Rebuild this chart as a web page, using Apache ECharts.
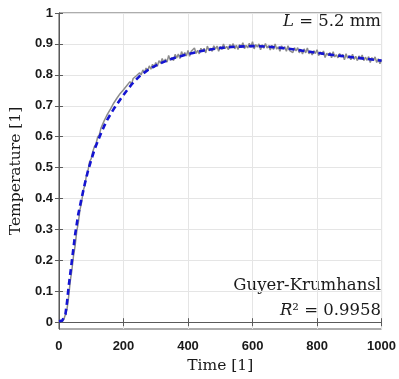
<!DOCTYPE html>
<html><head><meta charset="utf-8">
<script src="https://cdn.jsdelivr.net/npm/echarts@6/dist/echarts.min.js"></script>
<style>html,body{margin:0;padding:0;background:#fff}#c{width:399px;height:379px}</style>
</head><body><div id="c"></div>
<script>
// Fit curve (Guyer-Krumhansl), blue dashed
const fitT = [0,10,15,20,25,30,40,50,60,70,80,90,100,110,120,130,140,150,160,170,180,200,225,250,275,300,325,350,400,450,500,550,600,650,700,750,800,850,900,950,1000];
const fitY = [0.003,0.005,0.008,0.025,0.065,0.115,0.198,0.283,0.35,0.40,0.447,0.49,0.525,0.558,0.585,0.61,0.634,0.655,0.673,0.69,0.705,0.735,0.769,0.796,0.815,0.83,0.842,0.852,0.867,0.879,0.887,0.891,0.893,0.891,0.886,0.879,0.871,0.864,0.858,0.852,0.846];
// Measured data (gray, noisy), sampled every 5 time units from t = 0
const measStep = 5;
const measY = [0.004,0.007,0.002,0.009,0.014,0.042,0.083,0.133,0.168,0.214,
0.247,0.293,0.322,0.363,0.387,0.424,0.442,0.474,0.491,0.519,
0.529,0.552,0.568,0.577,0.599,0.606,0.627,0.631,0.651,0.652,
0.672,0.674,0.690,0.692,0.709,0.708,0.725,0.722,0.740,0.737,
0.752,0.750,0.765,0.761,0.778,0.770,0.788,0.784,0.797,0.791,
0.807,0.800,0.816,0.806,0.822,0.813,0.829,0.818,0.834,0.824,
0.840,0.828,0.846,0.837,0.853,0.839,0.851,0.841,0.863,0.847,
0.856,0.846,0.866,0.855,0.867,0.853,0.875,0.862,0.872,0.861,
0.879,0.860,0.876,0.871,0.887,0.869,0.879,0.868,0.886,0.875,
0.886,0.871,0.893,0.878,0.886,0.876,0.894,0.883,0.893,0.876,
0.892,0.882,0.900,0.885,0.892,0.881,0.898,0.889,0.901,0.884,
0.896,0.882,0.898,0.889,0.904,0.885,0.895,0.887,0.902,0.889,
0.907,0.884,0.898,0.890,0.900,0.881,0.897,0.886,0.901,0.887,
0.894,0.880,0.896,0.882,0.900,0.883,0.890,0.876,0.894,0.883,
0.891,0.876,0.894,0.878,0.884,0.872,0.888,0.877,0.888,0.871,
0.882,0.867,0.884,0.871,0.887,0.868,0.876,0.864,0.878,0.869,
0.881,0.862,0.874,0.865,0.877,0.856,0.870,0.863,0.872,0.855,
0.875,0.858,0.865,0.855,0.869,0.858,0.866,0.849,0.868,0.854,
0.861,0.849,0.867,0.850,0.860,0.846,0.861,0.852,0.864,0.846,
0.857,0.847,0.859,0.840,0.856,0.846,0.858,0.840,0.852,0.836,
0.849];
const yTicks = [0,0.1,0.2,0.3,0.4,0.5,0.6,0.7,0.8,0.9,1];
const xTicks = [0,200,400,600,800,1000];

const meas = measY.map((v,i)=>[i*measStep, v]);
const fit = fitT.map((t,i)=>[t, fitY[i]]);

const chart = echarts.init(document.getElementById('c'), null, {renderer:'canvas'});
const tickLab = {fontFamily:'Liberation Sans', fontWeight:'bold', fontSize:13, color:'#1a1a1a'};
const serif = 'DejaVu Serif';
const axCol = '#5a5a5a';
chart.setOption({
  animation:false,
  grid:{left:57, right:16, top:13, bottom:44, show:true, borderColor:axCol, borderWidth:1},
  xAxis:[{type:'value', min:0, max:1000, interval:200,
    axisLine:{lineStyle:{color:axCol}}, axisTick:{inside:true, length:4, lineStyle:{color:axCol}},
    axisLabel:Object.assign({margin:11, customValues:xTicks, formatter:v=>String(v)}, tickLab),
    splitLine:{show:true, lineStyle:{color:'#e5e5e5'}},
    name:'Time [1]', nameLocation:'middle', nameGap:29,
    nameTextStyle:{fontFamily:serif, fontSize:15.5, color:'#1a1a1a'}},
   {type:'value', position:'top', min:0, max:1000, interval:200, axisLine:{show:true, lineStyle:{color:axCol}},
    axisTick:{inside:true, length:4, lineStyle:{color:axCol}}, axisLabel:{show:false}, splitLine:{show:false}}],
  yAxis:[{type:'value', min:-0.022, max:1,
    axisLine:{show:true, lineStyle:{color:axCol}},
    axisTick:{show:true, inside:true, length:4, customValues:yTicks, lineStyle:{color:axCol}},
    axisLabel:Object.assign({margin:6, customValues:yTicks, formatter:v=>String(+v.toFixed(1))}, tickLab),
    splitLine:{show:false},
    name:'Temperature [1]', nameLocation:'middle', nameGap:31,
    nameTextStyle:{fontFamily:serif, fontSize:15.5, color:'#1a1a1a'}},
   {type:'value', position:'right', min:-0.022, max:1, axisLine:{show:true, lineStyle:{color:axCol}},
    axisTick:{show:true, inside:true, length:4, customValues:yTicks, lineStyle:{color:axCol}},
    axisLabel:{show:false}, splitLine:{show:false}}],
  series:[
    {type:'line', data:meas, showSymbol:false, lineStyle:{color:'#8c8c8c', width:1.5}, z:2,
     markLine:{silent:true, symbol:'none', label:{show:false}, lineStyle:{color:'#e5e5e5', width:1, type:'solid'},
       data:yTicks.map(v=>({yAxis:v})), z:0}},
    {type:'line', data:fit, showSymbol:false, lineStyle:{color:'#1414d2', width:2.6, type:[6,4]}, z:3}
  ],
  graphic:[
    {type:'text', right:18, top:13, style:{text:'{i|L} = 5.2 mm', fontFamily:serif, fontSize:16.5, fill:'#1a1a1a',
      rich:{i:{fontStyle:'italic', fontFamily:serif, fontSize:16.5}}}},
    {type:'text', right:18, top:277, style:{text:'Guyer-Krumhansl', fontFamily:serif, fontSize:16.5, fill:'#1a1a1a'}},
    {type:'text', right:18, top:302, style:{text:'{i|R}² = 0.9958', fontFamily:serif, fontSize:16.5, fill:'#1a1a1a',
      rich:{i:{fontStyle:'italic', fontFamily:serif, fontSize:16.5}}}}
  ]
});
</script></body></html>
